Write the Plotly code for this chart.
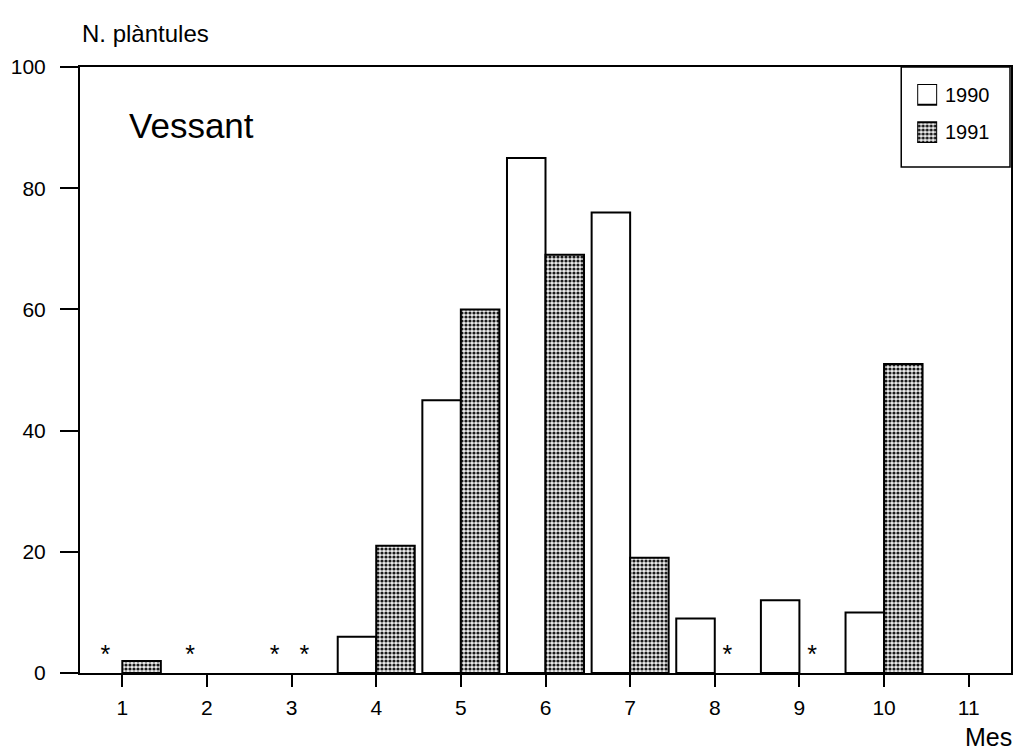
import plotly.graph_objects as go

# Monthly seedling counts on the slope site
months = list(range(1, 12))
tick_labels = [str(m) for m in months]
years = ["1990", "1991"]

counts_1990 = [0, 0, 0, 6, 45, 85, 76, 9, 12, 10, 0]
counts_1991 = [2, 0, 0, 21, 60, 69, 19, 0, 0, 51, 0]

# Months with no sampling, marked with an asterisk
no_data_1990 = [1, 2, 3]
no_data_1991 = [3, 8, 9]

FONT = "Liberation Sans, Arial, sans-serif"
BAR_W = 0.455

# plot-area geometry in pixels (used to place the hand-drawn legend)
W, H = 1016, 756
L, R, T, B = 80, 3, 67, 83
PW, PH = W - L - R, H - T - B


def px_to_paper_x(px):
    return (px - L) / PW


def px_to_paper_y(py):
    return (H - B - py) / PH


style_1990 = dict(color="white", line=dict(color="black", width=2))
style_1991 = dict(
    color="#d8d8d8",
    line=dict(color="black", width=2),
    pattern=dict(shape=".", size=4, solidity=0.5,
                 fgcolor="#1a1a1a", bgcolor="#ececec", fillmode="replace"),
)


def hide_zero(vals):
    return [v if v else None for v in vals]


fig = go.Figure()

fig.add_trace(go.Bar(
    name=years[0], x=months, y=hide_zero(counts_1990),
    width=BAR_W, offset=-BAR_W, marker=style_1990, showlegend=False,
))
fig.add_trace(go.Bar(
    name=years[1], x=months, y=hide_zero(counts_1991),
    width=BAR_W, offset=0, marker=style_1991, showlegend=False,
))

star_x = [m - 0.2 for m in no_data_1990] + [m + 0.15 for m in no_data_1991]
fig.add_trace(go.Scatter(
    x=star_x, y=[2.7] * len(star_x),
    mode="text", text=["*"] * len(star_x),
    textfont=dict(family=FONT, size=25, color="black"),
    showlegend=False, hoverinfo="skip",
))

# Legend swatches: two unit squares on a small auxiliary axis pair
sw_left, sw_right = 919, 939          # px
sw_top, sw_bottom = 84, 143           # px, spans both swatch rows
for i, st in enumerate([style_1990, style_1991]):
    fig.add_trace(go.Bar(
        x=[0], y=[1], base=[1 - i * 1.85 + 0.85], width=1,
        marker=st, xaxis="x2", yaxis="y2",
        showlegend=False, hoverinfo="skip",
    ))

fig.update_layout(
    xaxis2=dict(domain=[px_to_paper_x(sw_left), px_to_paper_x(sw_right)],
                range=[-0.5, 0.5], visible=False, anchor="y2", fixedrange=True),
    yaxis2=dict(domain=[px_to_paper_y(sw_bottom), px_to_paper_y(sw_top)],
                range=[0, 2.85], visible=False, anchor="x2", fixedrange=True),
)

legend_box = dict(
    type="rect", xref="paper", yref="paper",
    x0=px_to_paper_x(903), x1=px_to_paper_x(1012),
    y0=px_to_paper_y(167), y1=1.0,
    line=dict(color="black", width=1.5), fillcolor="white", layer="below",
)

fig.update_layout(
    width=W, height=H,
    margin=dict(l=L, r=R, t=T, b=B),
    paper_bgcolor="white", plot_bgcolor="white",
    font=dict(family=FONT, color="black"),
    barmode="overlay",
    showlegend=False,
    shapes=[legend_box],
    xaxis=dict(
        range=[0.5, 11.5],
        tickmode="array", tickvals=months, ticktext=tick_labels,
        ticks="outside", ticklen=12, tickwidth=2, tickcolor="black",
        showline=True, linecolor="black", linewidth=2, mirror=True,
        showgrid=False, zeroline=False, ticklabelstandoff=3,
        tickfont=dict(family=FONT, size=21),
    ),
    yaxis=dict(
        range=[0, 100],
        tickmode="array", tickvals=[0, 20, 40, 60, 80, 100],
        ticks="outside", ticklen=18, tickwidth=2, tickcolor="black",
        showline=True, linecolor="black", linewidth=2, mirror=True,
        showgrid=False, zeroline=False, ticklabelstandoff=10,
        tickfont=dict(family=FONT, size=21),
    ),
    annotations=[
        dict(text="N. plàntules", xref="paper", yref="paper",
             x=0.0, y=1.0, xanchor="left", yanchor="middle", yshift=34,
             showarrow=False, font=dict(family=FONT, size=24)),
        dict(text="Vessant", xref="paper", yref="paper",
             x=px_to_paper_x(127), y=px_to_paper_y(125),
             xanchor="left", yanchor="middle",
             showarrow=False, font=dict(family=FONT, size=35)),
        dict(text="Mes", xref="paper", yref="paper",
             x=1.0, y=0.0, xanchor="right", yanchor="middle",
             xshift=3, yshift=-64,
             showarrow=False, font=dict(family=FONT, size=25)),
        dict(text=years[0], xref="paper", yref="paper",
             x=px_to_paper_x(945), y=px_to_paper_y(95),
             xanchor="left", yanchor="middle",
             showarrow=False, font=dict(family=FONT, size=20)),
        dict(text=years[1], xref="paper", yref="paper",
             x=px_to_paper_x(945), y=px_to_paper_y(132),
             xanchor="left", yanchor="middle",
             showarrow=False, font=dict(family=FONT, size=20)),
    ],
)

fig.write_html("out.html")
